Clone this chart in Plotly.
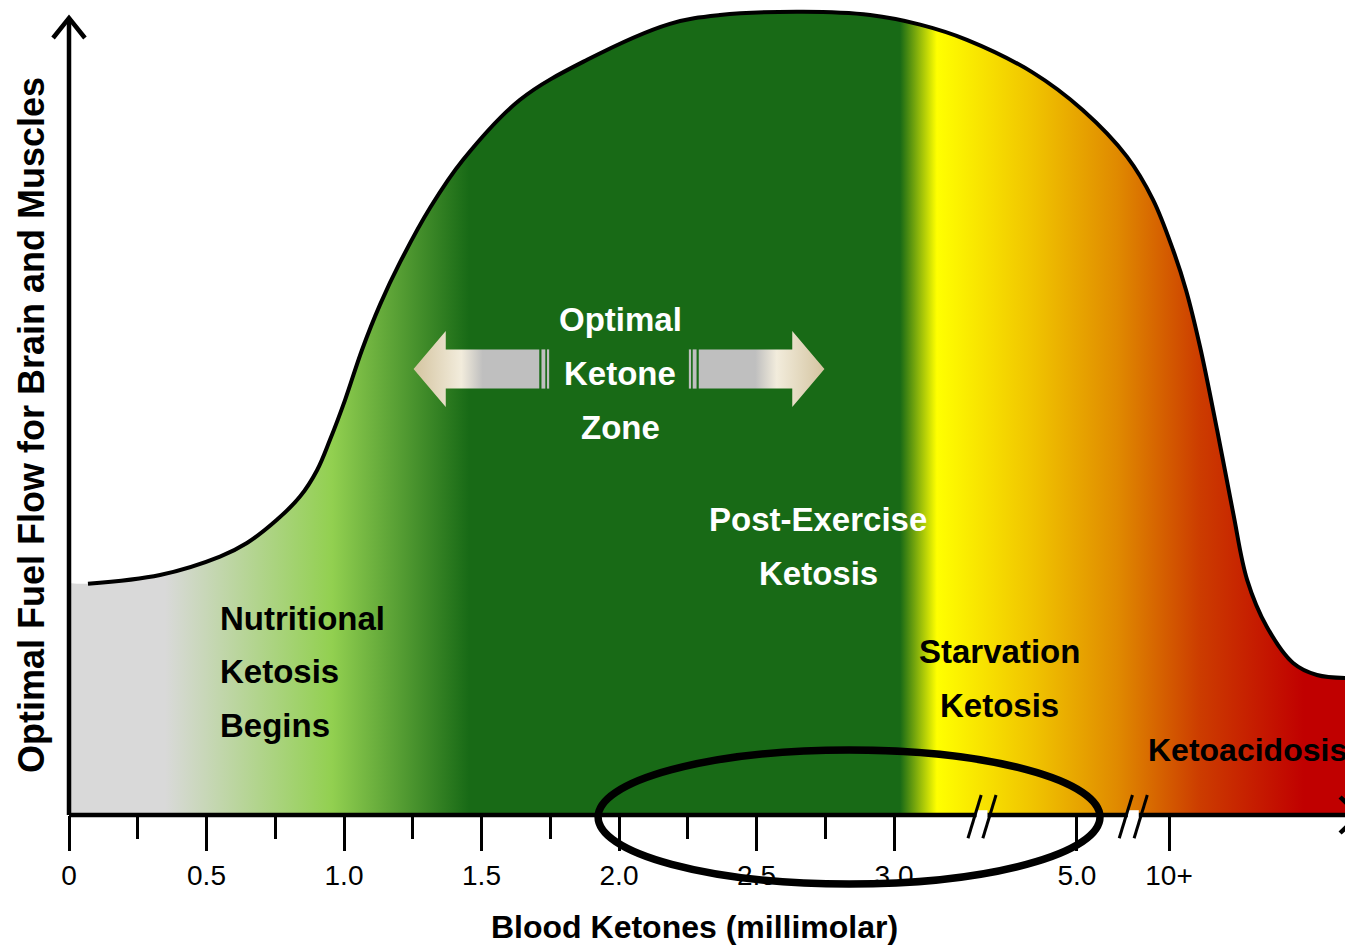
import plotly.graph_objects as go

# ---------------- data ----------------
# Horizontal axis is in "axis units": the 0-3.0 mmol/L part is linear,
# then the axis is broken and 5.0 and 10+ follow.
tick_positions = [0, 0.5, 1.0, 1.5, 2.0, 2.5, 3.0, 3.665, 4.0]
tick_labels = ["0", "0.5", "1.0", "1.5", "2.0", "2.5", "3.0", "5.0", "10+"]
minor_tick_positions = [0.25, 0.75, 1.25, 1.75, 2.25, 2.75]
break_positions = [3.32, 3.87]

# fuel-flow curve (relative units)
curve_x = [0.069, 0.331, 0.549, 0.647, 0.756, 0.840, 0.902, 0.949, 1.004, 1.065,
           1.131, 1.204, 1.313, 1.433, 1.640, 1.884, 2.185, 2.367, 2.669, 2.913,
           3.095, 3.265, 3.505, 3.687, 3.847, 3.942, 4.015, 4.062, 4.113, 4.175,
           4.233, 4.284, 4.356, 4.451, 4.538, 4.658]
curve_y = [2.89, 3.00, 3.23, 3.40, 3.69, 3.98, 4.31, 4.69, 5.19, 5.81,
           6.38, 6.91, 7.59, 8.19, 8.94, 9.44, 9.89, 10.00, 10.04, 10.00,
           9.88, 9.69, 9.28, 8.81, 8.23, 7.69, 7.06, 6.56, 5.85, 4.81,
           3.78, 2.94, 2.35, 1.90, 1.75, 1.71]
fill_left_y = 2.90
fill_right_y = 1.71

# colour zones along the axis
zone_positions = [0.0, 0.349, 0.956, 1.455, 3.022, 3.156, 3.505, 3.811, 4.113, 4.491, 4.669]
zone_colors = ["#d9d9d9", "#d9d9d9", "#92d050", "#186a16", "#186a16", "#ffff00",
               "#f0c400", "#e08a00", "#cc3c00", "#c00000", "#c00000"]

# zone labels: (lines, x, y of first line, colour, anchor, size)
zone_labels = [
    (["Optimal", "Ketone", "Zone"], 2.004, 6.19, "white", "center", 33),
    (["Post-Exercise", "Ketosis"], 2.724, 3.69, "white", "center", 33),
    (["Nutritional", "Ketosis", "Begins"], 0.542, 2.46, "black", "left", 33),
    (["Starvation", "Ketosis"], 3.382, 2.04, "black", "center", 33),
    (["Ketoacidosis"], 4.287, 0.81, "black", "center", 32),
]
line_step = 0.67
x_title = "Blood Ketones (millimolar)"
y_title = "Optimal Fuel Flow for Brain and Muscles"

# optimal-zone ellipse on the axis
ellipse_x = [1.924, 3.749]
ellipse_y = [-0.8625, 0.8125]

# page body has an 8 px margin -> figure is 1345 x 940
X_MIN, X_MAX = -0.2218, 4.669
Y_MIN, Y_MAX = -1.6625, 10.0875
Y_TOP = 9.9625

FONT = "Liberation Sans, Arial, Helvetica, sans-serif"

fig = go.Figure()

# gradient-filled area under curve
span = zone_positions[-1] - zone_positions[0]
colorscale = [[(p - zone_positions[0]) / span, c] for p, c in zip(zone_positions, zone_colors)]
fig.add_trace(go.Scatter(
    x=[0] + curve_x + [X_MAX], y=[fill_left_y] + curve_y + [fill_right_y],
    mode="lines", line=dict(width=0, shape="spline", smoothing=1.0),
    fill="tozeroy",
    fillgradient=dict(type="horizontal", colorscale=colorscale,
                      start=zone_positions[0], stop=zone_positions[-1]),
    hoverinfo="skip",
))

# curve outline
fig.add_trace(go.Scatter(
    x=curve_x, y=curve_y, mode="lines",
    line=dict(color="black", width=4, shape="spline", smoothing=1.0),
    hoverinfo="skip",
))

# double arrow around "Optimal Ketone Zone"
ac = 2.0           # arrow centre
tip = 0.747        # tip distance from centre
head = 0.117       # head length
inner = 0.29       # shaft inner end distance
yc, sh, hh = 5.575, 0.245, 0.475   # centre y, shaft half height, head half height
beige, cream, grey = "#d4c4a0", "#f2ecdc", "#bfbfbf"
for s in (-1, 1):
    xt = ac + s * tip
    xb = ac + s * (tip - head)
    xi = ac + s * inner
    xs = [xt, xb, xb, xi, xi, xb, xb, xt]
    ys = [yc, yc + hh, yc + sh, yc + sh, yc - sh, yc - sh, yc - hh, yc]
    lo, hi = min(xs), max(xs)
    if s < 0:
        cs = [[0, beige], [0.38, cream], [0.55, grey], [1, grey]]
    else:
        cs = [[0, grey], [0.45, grey], [0.62, cream], [1, beige]]
    fig.add_trace(go.Scatter(
        x=xs, y=ys, mode="lines", line=dict(width=0), fill="toself",
        fillgradient=dict(type="horizontal", colorscale=cs, start=lo, stop=hi),
        hoverinfo="skip"))
    for a, b in ((0.282, 0.268), (0.262, 0.254)):
        fig.add_shape(type="rect", x0=ac + s * a, x1=ac + s * b, y0=yc - sh, y1=yc + sh,
                      fillcolor=grey, line=dict(width=0), layer="above")

# axes lines
fig.add_shape(type="line", x0=0, x1=X_MAX, y0=0, y1=0, line=dict(color="black", width=4.5))
fig.add_shape(type="line", x0=0, x1=0, y0=0, y1=Y_TOP, line=dict(color="black", width=4.5))
fig.add_shape(type="path", path=f"M {-0.058} {Y_TOP-0.25} L 0 {Y_TOP} L {0.058} {Y_TOP-0.25}",
              line=dict(color="black", width=4.5))
fig.add_shape(type="path", path="M 4.622 0.225 L 4.69 0 L 4.622 -0.225",
              line=dict(color="black", width=4.5))

# axis breaks
for bp in break_positions:
    fig.add_shape(type="rect", x0=bp - 0.02, x1=bp + 0.02, y0=-0.06, y1=0.06,
                  fillcolor="white", line=dict(width=0))
    for off in (-0.027, 0.027):
        fig.add_shape(type="line", x0=bp + off - 0.024, x1=bp + off + 0.024,
                      y0=-0.29, y1=0.25, line=dict(color="black", width=3))

# ellipse
fig.add_shape(type="circle", x0=ellipse_x[0], x1=ellipse_x[1], y0=ellipse_y[0], y1=ellipse_y[1],
              line=dict(color="black", width=7.5), layer="above")

# labels
for lines, x, y, col, anc, size in zone_labels:
    for i, line in enumerate(lines):
        fig.add_annotation(x=x, y=y - i * line_step, text=line, showarrow=False,
                           xanchor=anc, align=anc,
                           font=dict(family=FONT, size=size, color=col, weight="bold"))
fig.add_annotation(x=2.276, y=-1.40, text=x_title, showarrow=False,
                   font=dict(family=FONT, size=32, color="black", weight="bold"))
fig.add_annotation(x=-0.138, y=4.875, text=y_title, showarrow=False, textangle=-90,
                   font=dict(family=FONT, size=36, color="black", weight="bold"))

fig.update_layout(
    width=1345, height=940, margin=dict(l=0, r=0, t=0, b=0),
    paper_bgcolor="white", plot_bgcolor="white", showlegend=False, hovermode=False,
    xaxis=dict(range=[X_MIN, X_MAX], anchor="free", position=(0 - Y_MIN) / (Y_MAX - Y_MIN),
               showgrid=False, zeroline=False, showline=False,
               tickmode="array", tickvals=tick_positions, ticktext=tick_labels,
               ticks="outside", ticklen=35, tickwidth=2.5, tickcolor="black",
               tickfont=dict(family=FONT, size=28, color="black"),
               minor=dict(tickvals=minor_tick_positions, ticks="outside", ticklen=23,
                          tickwidth=2.5, tickcolor="black", showgrid=False)),
    yaxis=dict(range=[Y_MIN, Y_MAX], visible=False, showgrid=False, zeroline=False),
)

fig.write_html("out.html")
